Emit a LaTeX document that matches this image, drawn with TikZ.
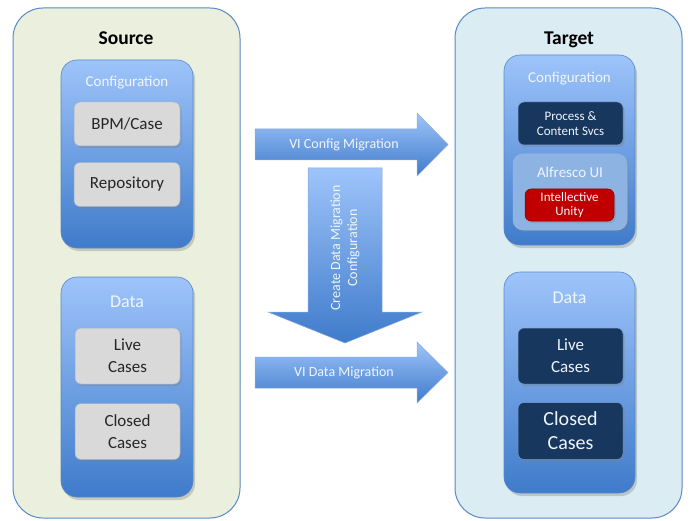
\documentclass[tikz,border=0pt]{standalone}
\usepackage{fontspec}
\setmainfont{Carlito}
\usetikzlibrary{positioning,shadows}

\definecolor{srcbg}{RGB}{235,239,222}
\definecolor{tgtbg}{RGB}{219,236,243}
\definecolor{frame}{RGB}{88,137,199}
\definecolor{gradtop}{RGB}{158,196,250}
\definecolor{gradbot}{RGB}{63,123,203}
\definecolor{itemgray}{RGB}{217,217,217}
\definecolor{itemedge}{RGB}{150,175,205}
\definecolor{navy}{RGB}{23,55,94}
\definecolor{alfblue}{RGB}{141,179,226}
\definecolor{unityred}{RGB}{192,0,0}
\definecolor{paletext}{RGB}{240,245,252}

\begin{document}
\begin{tikzpicture}[x=1pt,y=-1pt,
    outer/.style={draw=frame,line width=1pt,rounded corners=30pt},
    panel/.style={draw=frame,line width=0.6pt,rounded corners=16pt,
        top color=gradtop,bottom color=gradbot,
        drop shadow={opacity=0.35,shadow xshift=2pt,shadow yshift=-3pt}},
    item/.style={draw=itemedge,line width=0.5pt,rounded corners=6pt,
        fill=itemgray,text=black!85,align=center,font=\fontsize{17}{22}\selectfont,
        drop shadow={opacity=0.35,shadow xshift=1.5pt,shadow yshift=-2pt}},
    dark/.style={item,fill=navy,draw=frame!80,text=paletext},
    title/.style={anchor=base,font=\fontsize{19.5}{23}\selectfont\bfseries},
    head/.style={anchor=base,text=paletext,font=\fontsize{15}{18}\selectfont},
    bigarrow/.style={draw=frame!70,line width=0.5pt,top color=gradtop,bottom color=gradbot},
    arrowtext/.style={text=paletext,font=\fontsize{14}{17}\selectfont,align=center}]
    \useasboundingbox (0,0) rectangle (692,521);

    % source side
    \node[outer,fill=srcbg,minimum width=227,minimum height=510] (src) at (126.5,263) {};
    \node[title] (srcT) at (126,45) {Source};

    \node[panel,minimum width=132,minimum height=188] (srcCfg) at (127,154) {};
    \node[head] (srcCfgT) at (127,87) {Configuration};
    \node[item,minimum width=106,minimum height=44] (bpm) at (127,124) {BPM/Case};
    \node[item,minimum width=106,minimum height=44,below=16pt of bpm] (repo) {Repository};

    \node[panel,minimum width=132,minimum height=220] (srcData) at (127,387) {};
    \node[head,font=\fontsize{18}{22}\selectfont] (srcDataT) at (127,307) {Data};
    \node[item,minimum width=105,minimum height=56] (srcLive) at (127.5,356) {Live\\Cases};
    \node[item,minimum width=105,minimum height=56,below=19pt of srcLive] (srcClosed) {Closed\\Cases};

    % target side
    \node[outer,fill=tgtbg,minimum width=227,minimum height=510] (tgt) at (568.5,263) {};
    \node[title] (tgtT) at (569,45) {Target};

    \node[panel,minimum width=131,minimum height=190] (tgtCfg) at (569.5,150) {};
    \node[head] (tgtCfgT) at (569.5,83) {Configuration};
    \node[dark,minimum width=105,minimum height=43,font=\fontsize{13}{15}\selectfont] (pcs) at (570.5,123.5) {Process \&\\Content Svcs};
    \node[item,fill=alfblue,draw=frame!60,rounded corners=10pt,minimum width=114,minimum height=76] (alf) at (570,192) {};
    \node[head] (alfT) at (570,178) {Alfresco UI};
    \node[dark,fill=unityred,draw=unityred!70!black,minimum width=89,minimum height=32,font=\fontsize{13}{14}\selectfont] (unity) at (569.5,205) {Intellective\\Unity};

    \node[panel,minimum width=131,minimum height=221] (tgtData) at (569.5,382.5) {};
    \node[head,font=\fontsize{18}{22}\selectfont] (tgtDataT) at (569.5,303) {Data};
    \node[dark,minimum width=105,minimum height=56] (tgtLive) at (570.5,356) {Live\\Cases};
    \node[dark,minimum width=105,minimum height=57,below=18pt of tgtLive,font=\fontsize{20}{24}\selectfont] (tgtClosed) {Closed\\Cases};

    % migration arrows
    \shade[bigarrow] (255,129) -- (417,129) -- (417,113) -- (448,144.5) -- (417,176) -- (417,160) -- (255,160) -- cycle;
    \shade[bigarrow] (308,168) -- (382,168) -- (382,312) -- (422,312) -- (345,343) -- (268,312) -- (308,312) -- cycle;
    \shade[bigarrow] (255,357) -- (417,357) -- (417,342) -- (448,372.5) -- (417,403) -- (417,388) -- (255,388) -- cycle;

    \node[arrowtext] (cfgMig) at (344,144.5) {VI Config Migration};
    \node[arrowtext,rotate=90] (createMig) at (345,248) {Create Data Migration\\Configuration};
    \node[arrowtext] (dataMig) at (344,372.5) {VI Data Migration};
\end{tikzpicture}
\end{document}
